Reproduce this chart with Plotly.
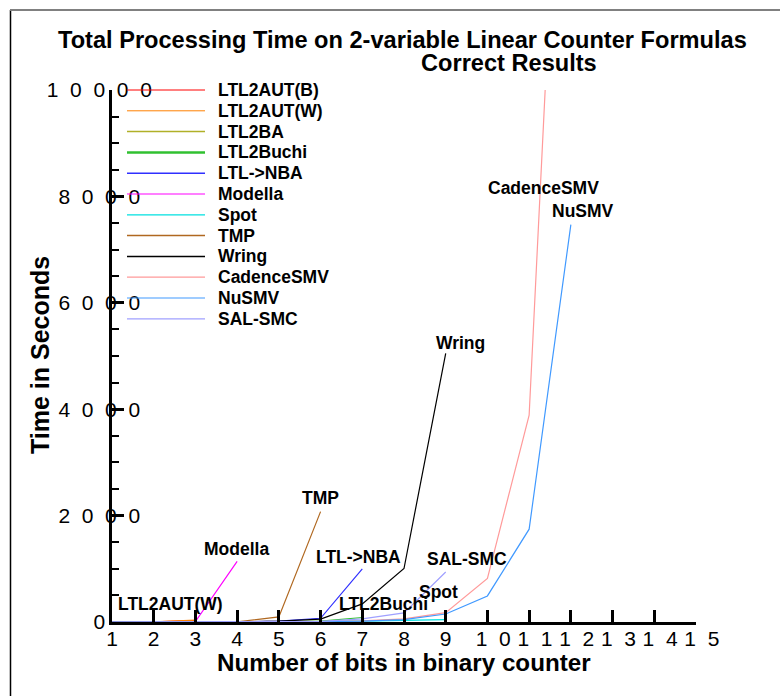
import plotly.graph_objects as go

# ---------------- data ----------------
x_ltl2aut_b = [1, 2, 3]
y_ltl2aut_b = [1, 4, 25]
x_ltl2aut_w = [1, 2, 3]
y_ltl2aut_w = [1, 5, 35]
x_ltl2ba = [1, 2, 3, 4, 5, 6, 7]
y_ltl2ba = [0, 0, 0, 1, 2, 5, 10]
x_ltl2buchi = [1, 2, 3, 4, 5, 6, 7]
y_ltl2buchi = [0, 0, 1, 2, 5, 15, 85]
x_ltl_nba = [1, 2, 3, 4, 5, 6, 7]
y_ltl_nba = [0, 0, 1, 5, 15, 70, 1000]
x_modella = [1, 2, 3, 4]
y_modella = [0, 1, 10, 1140]
x_spot = [1, 2, 3, 4, 5, 6, 7, 8, 9]
y_spot = [0, 0, 0, 1, 3, 8, 15, 25, 45]
x_tmp = [1, 2, 3, 4, 5, 6]
y_tmp = [0, 0, 1, 5, 95, 2075]
x_wring = [1, 2, 3, 4, 5, 6, 7, 8, 9]
y_wring = [0, 0, 1, 5, 15, 55, 340, 1005, 5050]
x_cadence = [1, 2, 3, 4, 5, 6, 7, 8, 9, 10, 11, 12]
y_cadence = [0, 0, 0, 1, 3, 8, 20, 60, 175, 820, 3890, 19800]
x_nusmv = [1, 2, 3, 4, 5, 6, 7, 8, 9, 10, 11, 12]
y_nusmv = [0, 0, 0, 1, 2, 6, 15, 45, 150, 490, 1745, 7470]
x_salsmc = [1, 2, 3, 4, 5, 6, 7, 8, 9]
y_salsmc = [0, 0, 0, 1, 3, 10, 60, 170, 940]

series_names = ["LTL2AUT(B)", "LTL2AUT(W)", "LTL2BA", "LTL2Buchi", "LTL->NBA", "Modella",
                "Spot", "TMP", "Wring", "CadenceSMV", "NuSMV", "SAL-SMC"]
series_x = [x_ltl2aut_b, x_ltl2aut_w, x_ltl2ba, x_ltl2buchi, x_ltl_nba, x_modella,
            x_spot, x_tmp, x_wring, x_cadence, x_nusmv, x_salsmc]
series_y = [y_ltl2aut_b, y_ltl2aut_w, y_ltl2ba, y_ltl2buchi, y_ltl_nba, y_modella,
            y_spot, y_tmp, y_wring, y_cadence, y_nusmv, y_salsmc]

y_tick_values = [0, 2000, 4000, 6000, 8000, 10000]
x_tick_values = list(range(1, 16))

title_line1 = "Total Processing Time on 2-variable Linear Counter Formulas"
title_line2 = "Correct Results"
x_title = "Number of bits in binary counter"
y_title = "Time in Seconds"

# ---------------- styles ----------------
colors = ["#ff0000", "#ff8000", "#b0b028", "#30c030", "#3030ff", "#ff00ff",
          "#00e0e0", "#b06820", "#000000", "#ff9a9a", "#4099ff", "#a0a0ff"]
legend_widths = [1, 1, 1.5, 2.5, 1.5, 1.2, 1.2, 1.5, 1.5, 1.2, 1.2, 1.2]

FONT = "Arial, Liberation Sans, sans-serif"
W, H = 780, 696
ML, MR, MT, MB = 112, 84, 90, 74
PW, PH = W - ML - MR, H - MT - MB


def px(xp):
    return (xp - ML) / PW


def py(yp):
    return (H - MB - yp) / PH


NB = "\u00a0\u00a0"


def spaced_y(v):
    s = str(v)
    return NB.join(s) + NB * (5 - len(s))


def spaced_x(v):
    s = str(v)
    return s if len(s) == 1 else NB + NB.join(s)


fig = go.Figure()
for name, xs, ys, c in zip(series_names, series_x, series_y, colors):
    fig.add_trace(go.Scatter(x=xs, y=ys, mode="lines", name=name,
                             line=dict(color=c, width=1.2), showlegend=False))

# in-chart labels (data coordinates of label centres)
label_pos = {
    "LTL2AUT(W)": (2.4, 338), "Modella": (3.98, 1372), "TMP": (6.01, 2325),
    "LTL->NBA": (6.91, 1228), "LTL2Buchi": (7.5, 338), "Spot": (8.82, 564),
    "SAL-SMC": (9.52, 1184), "Wring": (9.35, 5245), "CadenceSMV": (11.35, 8160),
    "NuSMV": (12.28, 7727),
}
annotations = []
for t, (lx, ly) in label_pos.items():
    annotations.append(dict(x=lx, y=ly, xref="x", yref="y", text="<b>%s</b>" % t,
                            showarrow=False, xanchor="center", yanchor="middle",
                            font=dict(family=FONT, size=17.5, color="black")))

# custom legend
shapes = []
for i, (name, c, lw) in enumerate(zip(series_names, colors, legend_widths)):
    yy = 90 + 20.8 * i
    shapes.append(dict(type="line", xref="paper", yref="paper", x0=px(127), x1=px(205),
                       y0=py(yy), y1=py(yy), line=dict(color=c, width=lw)))
    annotations.append(dict(x=px(216), y=py(yy), xref="paper", yref="paper",
                            text="<b>%s</b>" % name, showarrow=False, xanchor="left",
                            yanchor="middle", font=dict(family=FONT, size=17.5, color="black")))

# titles
annotations.append(dict(x=px(402), y=py(40), xref="paper", yref="paper", text="<b>%s</b>" % title_line1,
                        showarrow=False, xanchor="center", yanchor="middle",
                        font=dict(family=FONT, size=23.6, color="black")))
annotations.append(dict(x=px(509), y=py(63), xref="paper", yref="paper", text="<b>%s</b>" % title_line2,
                        showarrow=False, xanchor="center", yanchor="middle",
                        font=dict(family=FONT, size=23.6, color="black")))
annotations.append(dict(x=px(404), y=py(662), xref="paper", yref="paper", text="<b>%s</b>" % x_title,
                        showarrow=False, xanchor="center", yanchor="middle",
                        font=dict(family=FONT, size=24.2, color="black")))
annotations.append(dict(x=px(40), y=py(355), xref="paper", yref="paper", text="<b>%s</b>" % y_title,
                        showarrow=False, xanchor="center", yanchor="middle", textangle=-90,
                        font=dict(family=FONT, size=25, color="black")))

# frame lines of the page
shapes.append(dict(type="line", xref="paper", yref="paper", x0=px(10.5), x1=px(10.5),
                   y0=py(10), y1=py(H), line=dict(color="black", width=1.5)))
shapes.append(dict(type="line", xref="paper", yref="paper", x0=px(10), x1=px(W),
                   y0=py(10), y1=py(10), line=dict(color="#808080", width=2)))

fig.update_layout(
    width=W, height=H, margin=dict(l=ML, r=MR, t=MT, b=MB, pad=0),
    paper_bgcolor="white", plot_bgcolor="white", showlegend=False,
    font=dict(family=FONT, color="black"),
    annotations=annotations, shapes=shapes,
    xaxis=dict(range=[1, 15], tickvals=x_tick_values, ticktext=[spaced_x(v) for v in x_tick_values],
               tickangle=0, ticklabelstandoff=-4,
               showgrid=False, zeroline=False, showline=True, linecolor="black", linewidth=3,
               ticks="inside", ticklen=12, tickwidth=3, tickcolor="black",
               tickfont=dict(family=FONT, size=21, color="black")),
    yaxis=dict(range=[0, 10000], tickvals=y_tick_values, ticktext=[spaced_y(v) for v in y_tick_values],
               showgrid=False, zeroline=False, showline=True, linecolor="black", linewidth=3,
               ticks="inside", ticklen=12, tickwidth=3, tickcolor="black",
               ticklabelstandoff=-47,
               tickfont=dict(family=FONT, size=21, color="black"),
               minor=dict(dtick=500, tick0=0, ticks="inside", ticklen=7, tickwidth=2,
                          tickcolor="black", showgrid=False)),
)

fig.write_html("out.html", config={"displayModeBar": False},
               post_script="document.body.style.margin='0px';")
